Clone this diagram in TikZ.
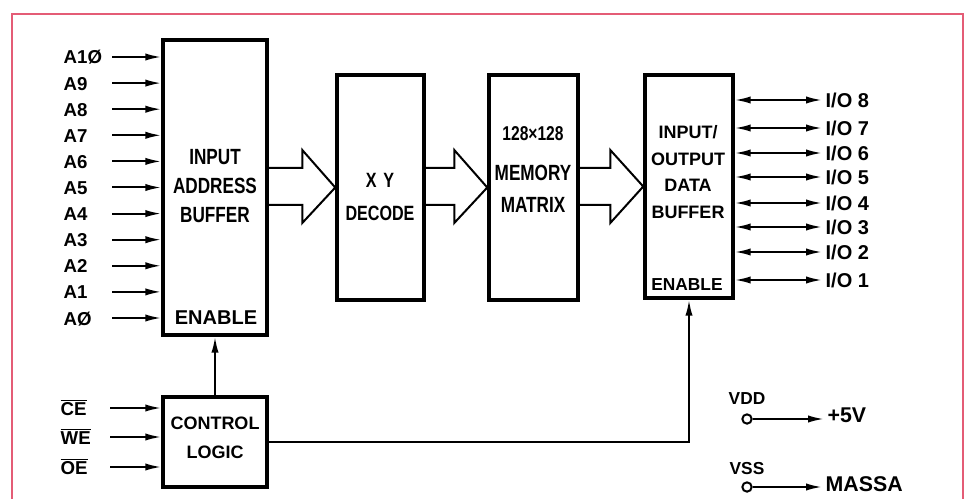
\documentclass[tikz,border=0pt]{standalone}
\usepackage{fontspec}
\usetikzlibrary{arrows.meta,calc}
\newfontfamily\rotulo[FakeStretch=0.78]{Liberation Sans}
\newfontfamily\rotulow{Liberation Sans}
\definecolor{marco}{RGB}{228,92,118}
\tikzset{
  bloque/.style={draw,line width=2.6pt,inner sep=0pt},
  estrecho/.style={font=\rotulo\bfseries\fontsize{16.5}{21.75}\selectfont,align=center,inner sep=0pt},
  ancho/.style={font=\rotulow\bfseries\fontsize{#1}{20}\selectfont,align=center,inner sep=0pt},
  etiq/.style={font=\rotulow\bfseries\fontsize{14}{16}\selectfont,inner sep=2pt},
}
\newcommand\bus[2]{\draw (#1.east |- 0,168) -- ($(#2.west |- 0,168)+(-33,0)$) -- ++(0,-18)
  -- (#2.west) -- ($(#2.west |- 0,223)+(-33,0)$) -- ++(0,-18) -- (#1.east |- 0,205);}
\begin{document}
\begin{tikzpicture}[x=0.75pt,y=-0.75pt,line width=1.5pt,>={Latex[length=12pt,width=5.5pt]}]
  \useasboundingbox (0,0) rectangle (968,499);
  \draw[marco,line width=2pt] (12,499) -- (12,14) -- (963,14) -- (963,499);
  % bloques
  \node[bloque,minimum width=78pt,minimum height=221.25pt] (buffer) at (215,187.5) {};
  \node[bloque,minimum width=65.25pt,minimum height=168.75pt] (decod) at (380.5,187.5) {};
  \node[bloque,minimum width=66.75pt,minimum height=168.75pt] (matriz) at (533.5,187.5) {};
  \node[bloque,minimum width=66pt,minimum height=167.25pt] (iobuf) at (689,186.5) {};
  \node[bloque,minimum width=78pt,minimum height=67.5pt] (control) at (215,442) {};
  % textos
  \node[estrecho] (tbuffer) at (215,186) {INPUT\\ADDRESS\\BUFFER};
  \node[ancho=15] (enbuffer) at (216,318) {ENABLE};
  \node[estrecho,font=\rotulo\bfseries\fontsize{15.5}{24.75}\selectfont] (tdecod) at (380,197) {X\,\,Y\\DECODE};
  \node[estrecho,font=\rotulo\bfseries\fontsize{16.5}{24}\selectfont] (tmatriz) at (533,170)
    {{\fontsize{15}{15}\selectfont 128×128}\\[6pt]MEMORY\\MATRIX};
  \node[ancho=13.5,font=\rotulow\bfseries\fontsize{13.5}{20}\selectfont] (tiobuf) at (688,172) {INPUT/\\OUTPUT\\DATA\\BUFFER};
  \node[ancho=13] (eniobuf) at (687,285) {ENABLE};
  \node[ancho=13.5,font=\rotulow\bfseries\fontsize{13.5}{21.75}\selectfont] (tcontrol) at (215,438) {CONTROL\\LOGIC};
  % direcciones
  \foreach \lab [count=\i from 0] in {A1Ø,A9,A8,A7,A6,A5,A4,A3,A2,A1,AØ} {
    \node[etiq,anchor=base west] (a\i) at (60,{64+26.1*\i}) {\lab};
    \coordinate (s\i) at (112,{57+26.1*\i});
    \draw[->] (s\i) -- (s\i -| buffer.west);
  }
  % control
  \foreach \lab/\y [count=\i] in {CE/408,WE/437,OE/467} {
    \node[etiq,anchor=base west] (c\i) at (57,\y+7) {$\overline{\hbox{\lab}}$};
    \coordinate (t\i) at (110,\y);
    \draw[->] (t\i) -- (t\i -| control.west);
  }
  % buses
  \bus{buffer}{decod}
  \bus{decod}{matriz}
  \bus{matriz}{iobuf}
  % datos
  \foreach \n/\y in {8/100,7/128,6/153,5/177,4/203,3/227,2/252,1/280} {
    \node[etiq,font=\rotulow\bfseries\fontsize{15}{16}\selectfont,anchor=west] (io\n) at (822,\y) {I/O \n};
    \draw[<->] (io\n.west -| iobuf.east) -- (io\n.west);
  }
  \draw[->] (control.north) -- (buffer.south);
  \draw[->] (control.east) -| (iobuf.south);
  % alimentacion
  \node[circle,draw,inner sep=0pt,minimum size=7pt] (vdd) at (747,419) {};
  \node[etiq,font=\rotulow\bfseries\fontsize{13}{14}\selectfont] (lvdd) at (747,399) {VDD};
  \node[etiq,font=\rotulow\bfseries\fontsize{16}{18}\selectfont,anchor=west] (p5v) at (824,415) {+5V};
  \draw[->] (vdd) -- (vdd -| p5v.west);
  \node[circle,draw,inner sep=0pt,minimum size=7pt] (vss) at (747,487) {};
  \node[etiq,font=\rotulow\bfseries\fontsize{13}{14}\selectfont] (lvss) at (747,469) {VSS};
  \node[etiq,font=\rotulow\bfseries\fontsize{16}{18}\selectfont,anchor=west] (masa) at (822,484) {MASSA};
  \draw[->] (vss) -- (vss -| masa.west);
\end{tikzpicture}
\end{document}
